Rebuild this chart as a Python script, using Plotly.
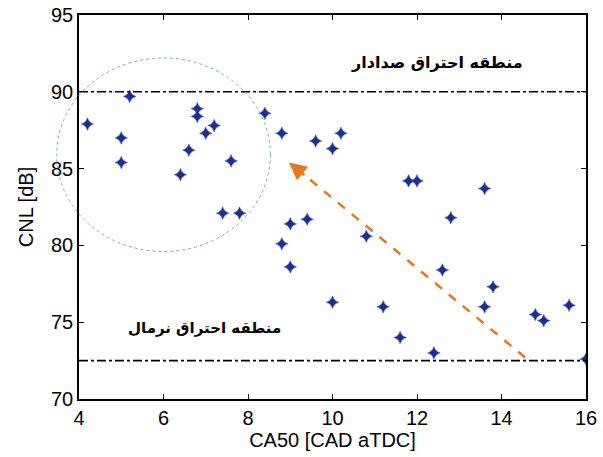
import plotly.graph_objects as go

ca50 = [4.2, 5.0, 5.0, 5.2, 6.6, 6.4, 6.8, 6.8, 7.0, 7.2, 7.4, 7.6, 7.8, 8.4,
        8.8, 9.6, 10.0, 10.2, 11.8, 12.0, 13.6, 9.0, 9.4, 8.8, 9.0, 10.8, 12.8,
        12.6, 13.8, 13.6, 10.0, 11.2, 11.6, 12.4, 14.8, 15.0, 15.6, 16.0]
cnl = [87.9, 87.0, 85.4, 89.7, 86.2, 84.6, 88.9, 88.4, 87.3, 87.8, 82.1, 85.5, 82.1, 88.6,
       87.3, 86.8, 86.3, 87.3, 84.2, 84.2, 83.7, 81.4, 81.7, 80.1, 78.6, 80.6, 81.8,
       78.4, 77.3, 76.0, 76.3, 76.0, 74.0, 73.0, 75.5, 75.1, 76.1, 72.6]

x_range = [4, 16]
y_range = [70, 95]
x_ticks = [4, 6, 8, 10, 12, 14, 16]
y_ticks = [70, 75, 80, 85, 90, 95]
upper_limit = 90
lower_limit = 72.5
label_upper = "منطقه احتراق صدادار"
label_lower = "منطقه احتراق نرمال"
circle_center = (6.0, 85.9)
circle_radius = (2.53, 6.3)
arrow_start = (14.56, 72.7)
arrow_end = (8.97, 85.4)

def px(x):
    return (x - x_range[0]) / (x_range[1] - x_range[0])

def py(y):
    return (y - y_range[0]) / (y_range[1] - y_range[0])

fig = go.Figure()

fig.add_trace(go.Scatter(
    x=ca50, y=cnl, mode="markers",
    marker=dict(symbol="star-diamond", size=9, color="#1c2f8e",
                line=dict(color="#3a4fb0", width=0.5)),
    showlegend=False, hoverinfo="skip"))

# arrow dashed shaft
fig.add_trace(go.Scatter(
    x=[arrow_start[0], arrow_end[0] + 0.25], y=[arrow_start[1], arrow_end[1] - 0.55],
    mode="lines", line=dict(color="#e8761c", width=2.5, dash="dash"),
    showlegend=False, hoverinfo="skip"))

shapes = []
for yv in [upper_limit, lower_limit]:
    shapes.append(dict(type="line", xref="paper", yref="y", x0=0, x1=1, y0=yv, y1=yv,
                       line=dict(color="black", width=1.6, dash="dashdot")))
shapes.append(dict(type="circle", xref="paper", yref="paper",
                   x0=px(circle_center[0] - circle_radius[0]),
                   x1=px(circle_center[0] + circle_radius[0]),
                   y0=py(circle_center[1] - circle_radius[1]),
                   y1=py(circle_center[1] + circle_radius[1]),
                   line=dict(color="#6fa8dc", width=1, dash="dot")))

annotations = [
    dict(x=12.47, y=91.9, text="<b>" + label_upper + "</b>", showarrow=False,
         font=dict(family="DejaVu Sans", size=16, color="black")),
    dict(x=6.98, y=74.6, text="<b>" + label_lower + "</b>", showarrow=False,
         font=dict(family="DejaVu Sans", size=15, color="black")),
    dict(x=arrow_end[0], y=arrow_end[1], ax=arrow_end[0] + 0.4, ay=arrow_end[1] - 0.9,
         xref="x", yref="y", axref="x", ayref="y", text="", showarrow=True,
         arrowhead=2, arrowsize=1.4, arrowwidth=2.5, arrowcolor="#e8761c"),
]

axis_common = dict(showline=True, linecolor="black", linewidth=1.5, mirror="ticks",
                   ticks="inside", ticklen=5, tickcolor="black", showgrid=False,
                   zeroline=False, automargin=False,
                   tickfont=dict(family="Liberation Sans", size=20, color="black"),
                   title_font=dict(family="Liberation Sans", size=20, color="black"))

fig.update_layout(
    width=603, height=457,
    margin=dict(l=79, r=17, t=15, b=58),
    plot_bgcolor="white", paper_bgcolor="white",
    shapes=shapes, annotations=annotations,
    xaxis=dict(range=x_range, tickvals=x_ticks, title=dict(text="CA50 [CAD aTDC]", standoff=4),
               **axis_common),
    yaxis=dict(range=y_range, tickvals=y_ticks, title=dict(text="CNL [dB]", standoff=12),
               **axis_common),
)

fig.write_html("out.html")
